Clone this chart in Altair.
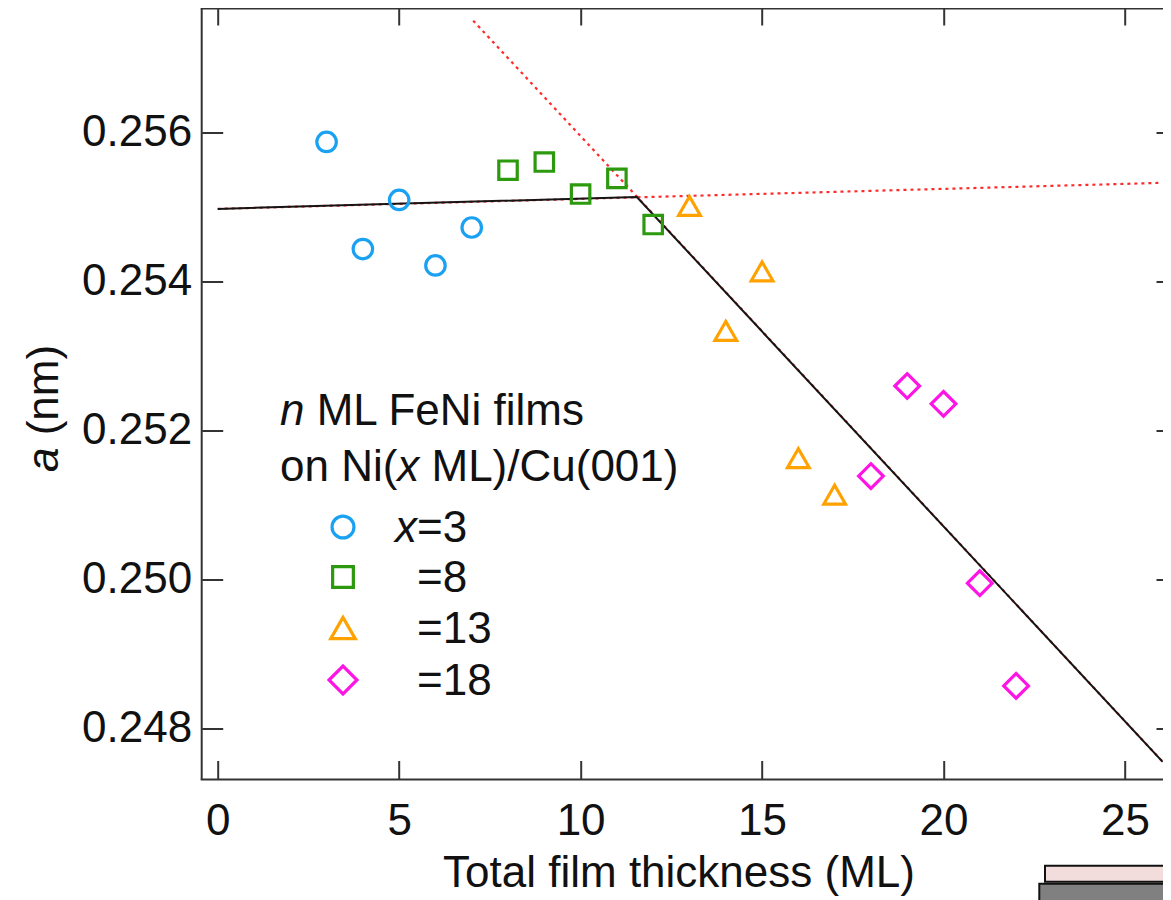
import altair as alt
import pandas as pd

# ---------------- data ----------------
x3_n = [3, 4, 5, 6, 7]
x3_a = [0.25588, 0.25444, 0.25510, 0.25422, 0.25473]
x8_n = [8, 9, 10, 11, 12]
x8_a = [0.25550, 0.25561, 0.25518, 0.25539, 0.25477]
x13_n = [13, 14, 15, 16, 17]
x13_a = [0.25502, 0.25334, 0.25414, 0.25163, 0.25114]
x18_n = [18, 19, 20, 21, 22]
x18_a = [0.25139, 0.25260, 0.25236, 0.24995, 0.24857]

fit_n = [0, 11.55, 26.04]
fit_a = [0.25498, 0.25514, 0.24755]
guide1_n = [0, 26.0]
guide1_a = [0.25498, 0.25533]
guide2_n = [7.04, 26.04]
guide2_a = [0.25751, 0.24755]

x_ticks = [0, 5, 10, 15, 20, 25]
y_ticks = [0.248, 0.250, 0.252, 0.254, 0.256]

legend_labels = ["=3", "=8", "=13", "=18"]
series_shapes = ["circle", "square", "triangle-up", "diamond"]
series_colors = ["#1BA1F2", "#2D990F", "#FFA200", "#FF14E6"]
series_sizes = [380, 340, 470, 610]
legend_sizes = [480, 430, 600, 780]

FONT = "Liberation Sans"
FS = 44
PAD_L, PAD_T = 193.7, 0.5
SVG_W, SVG_H = 1155, 892
W, H = SVG_W - PAD_L, 771

xsc = alt.Scale(domain=[-0.441, -0.441 + W / 36.29], nice=False, zero=False)
ysc = alt.Scale(domain=[0.247312, 0.257673], nice=False, zero=False)

axis_common = dict(domain=False, grid=False, tickColor="#333333", tickWidth=2,
                   labelFont=FONT, labelFontSize=FS, labelColor="#111111", title=None)

ax_bottom = alt.Axis(orient="bottom", values=x_ticks, offset=-19, tickSize=19,
                     labelPadding=20, labelFlush=False, labelOverlap=False, **axis_common)
ax_left = alt.Axis(orient="left", values=y_ticks, format=".3f", offset=-21, tickSize=21,
                   labelPadding=10, labelFlush=False, labelOverlap=False, **axis_common)
ax_top = alt.Axis(orient="top", values=x_ticks, offset=-16.5, tickSize=16.5, labels=False,
                  **axis_common)
ax_right = alt.Axis(orient="right", values=y_ticks, offset=-7, tickSize=7, labels=False,
                    **axis_common)


def frame(n, a):
    return pd.DataFrame({"n": n, "a": a})


def enc(chart, xaxis=None, yaxis=None):
    return chart.encode(
        x=alt.X("n:Q", scale=xsc, axis=xaxis),
        y=alt.Y("a:Q", scale=ysc, axis=yaxis),
    )


one = frame([0], [0])

# frame lines (left, top, bottom; the right edge lies outside the picture)
frame_layers = [
    alt.Chart(one).mark_rule(color="#333333", strokeWidth=2).encode(
        x=alt.value(0), y=alt.value(0), y2=alt.value(H)),
    alt.Chart(one).mark_rule(color="#333333", strokeWidth=2).encode(
        x=alt.value(-1), x2=alt.value(W + 10), y=alt.value(0)),
    alt.Chart(one).mark_rule(color="#333333", strokeWidth=2).encode(
        x=alt.value(-1), x2=alt.value(W + 10), y=alt.value(H)),
]

red = dict(color="#FF2A2A", strokeWidth=2.2, strokeDash=[3, 4])
g1 = enc(alt.Chart(frame(guide1_n, guide1_a)).mark_line(**red), ax_top, ax_right)
g2 = enc(alt.Chart(frame(guide2_n, guide2_a)).mark_line(**red))
fit = enc(alt.Chart(frame(fit_n, fit_a)).mark_line(color="#151515", strokeWidth=2),
          ax_bottom, ax_left)

series = [(x3_n, x3_a), (x8_n, x8_a), (x13_n, x13_a), (x18_n, x18_a)]
point_layers = []
for (n, a), shp, col, sz in zip(series, series_shapes, series_colors, series_sizes):
    point_layers.append(enc(alt.Chart(frame(n, a)).mark_point(
        shape=shp, filled=False, color=col, strokeWidth=3.2, size=sz, opacity=1)))

# ---------------- legend (drawn by hand) ----------------
leg_layers = []
leg_sym_x = 141.3
leg_row_y = [518.5, 568.5, 619.5, 671.5]
for lab, shp, col, sz, yy in zip(legend_labels, series_shapes, series_colors, legend_sizes, leg_row_y):
    leg_layers.append(alt.Chart(one).mark_point(
        shape=shp, filled=False, color=col, strokeWidth=3.2, size=sz, opacity=1
    ).encode(x=alt.value(leg_sym_x), y=alt.value(yy)))
    leg_layers.append(alt.Chart(one).mark_text(
        text=lab, font=FONT, fontSize=FS, align="left", baseline="middle", color="#111111"
    ).encode(x=alt.value(215.3), y=alt.value(yy + 2)))
leg_layers.append(alt.Chart(one).mark_text(
    text="x", font=FONT, fontSize=FS, fontStyle="italic", align="left", baseline="middle",
    color="#111111").encode(x=alt.value(193.3), y=alt.value(leg_row_y[0] + 2)))


def txt(s, x, y, italic=False, align="left", angle=0):
    kw = dict(text=s, font=FONT, fontSize=FS, align=align, baseline="middle", color="#111111")
    if italic:
        kw["fontStyle"] = "italic"
    if angle:
        kw["angle"] = angle
    return alt.Chart(one).mark_text(**kw).encode(x=alt.value(x), y=alt.value(y))


title_layers = [
    txt("n", 78.3, 403.5, italic=True),
    txt("ML FeNi films", 115.0, 403.5),
    txt("on Ni(", 78.3, 459.5),
    txt("x", 195.6, 459.5, italic=True),
    txt("ML)/Cu(001)", 229.8, 459.5),
    txt("Total film thickness (ML)", 477.3, 865.7, align="center"),
    txt("a", -156.7, 463.5, italic=True, angle=270),
    txt("(nm)", -156.7, 426.8, angle=270),
]

deco = [
    alt.Chart(one).mark_rect(fill="#F2DCDC", stroke="#111111", strokeWidth=2).encode(
        x=alt.value(843.3), x2=alt.value(1000), y=alt.value(857.2), y2=alt.value(873.2)),
    alt.Chart(one).mark_rect(fill="#808080", stroke="#111111", strokeWidth=2).encode(
        x=alt.value(837.6), x2=alt.value(1000), y=alt.value(875.2), y2=alt.value(900)),
]

chart = alt.layer(g1, g2, fit, *point_layers, *leg_layers, *title_layers, *deco,
                  *frame_layers).resolve_axis(
    x="independent", y="independent"
).properties(
    width=W, height=H,
    autosize=alt.AutoSizeParams(type="none"),
    padding={"left": PAD_L, "top": PAD_T, "right": 0, "bottom": SVG_H - PAD_T - H},
    background="white",
).configure_view(stroke=None)

chart.save("out.html", embed_options={"renderer": "svg", "actions": False})
